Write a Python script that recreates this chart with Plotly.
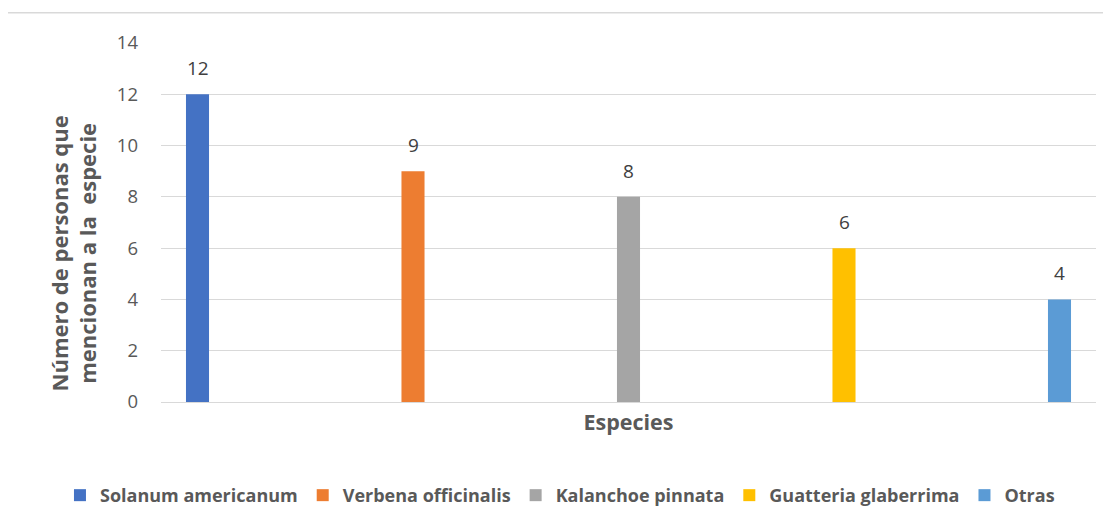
import plotly.graph_objects as go

species = ["Solanum americanum", "Verbena officinalis", "Kalanchoe pinnata",
           "Guatteria glaberrima", "Otras"]
counts = [12, 9, 8, 6, 4]
colors = ["#4472C4", "#ED7D31", "#A5A5A5", "#FFC000", "#5B9BD5"]
y_ticks = [0, 2, 4, 6, 8, 10, 12, 14]

FONT = "Open Sans"
TXT = "#595959"
OFF = 8  # browser body margin

fig = go.Figure()
for name, val, col in zip(species, counts, colors):
    fig.add_trace(go.Bar(x=[name], y=[val], name=name, marker_color=col,
                         marker_line_width=0, showlegend=True))
    fig.add_annotation(x=name, y=val, text=str(val), showarrow=False,
                       yanchor="bottom", yshift=11,
                       font=dict(family=FONT, size=19, color="#404040"))

W, H = 1111 - OFF, 525 - OFF
L, R, T, B = 161 - OFF, 15.3, 43.3 - OFF, 122.3
pw, ph = W - L - R, H - T - B
def px(x):
    return (x - OFF - L) / pw
def py(y):
    return (H - B - (y - OFF)) / ph

fig.add_annotation(xref="paper", yref="paper", x=px(73), y=py(254),
                   xanchor="center", yanchor="middle", textangle=-90,
                   showarrow=False,
                   text="<b>Número de personas que<br>mencionan a la  especie</b>",
                   font=dict(family=FONT, size=22, color=TXT))

fig.update_layout(
    width=W, height=H,
    margin=dict(l=L, r=R, t=T, b=B),
    barmode="overlay", bargap=0.893,
    plot_bgcolor="white", paper_bgcolor="white",
    font=dict(family=FONT, color=TXT),
    xaxis=dict(categoryorder="array", categoryarray=species,
               range=[-0.1694, 4.1694], showticklabels=False, showgrid=False,
               zeroline=False, showline=False, fixedrange=True,
               title=dict(text="<b>Especies</b>", standoff=12,
                          font=dict(family=FONT, size=21.5, color=TXT))),
    yaxis=dict(range=[0, 14], tickvals=y_ticks, showgrid=True,
               gridcolor="#d9d9d9", gridwidth=1.3, zeroline=True,
               zerolinecolor="#d9d9d9", zerolinewidth=1.3, showline=False,
               ticklabelstandoff=22,
               tickfont=dict(family=FONT, size=18.5, color=TXT)),
    legend=dict(orientation="h", x=px(60), xanchor="left",
                y=py(495), yanchor="middle",
                font=dict(family=FONT, size=18, color=TXT, weight="bold"),
                itemwidth=30, traceorder="normal"),
    shapes=[dict(type="rect", xref="paper", yref="paper",
                 x0=px(7), x1=px(1120), y0=py(535), y1=py(13),
                 line=dict(color="#d9d9d9", width=1.3), layer="below")],
)

fig.write_html("out.html")
